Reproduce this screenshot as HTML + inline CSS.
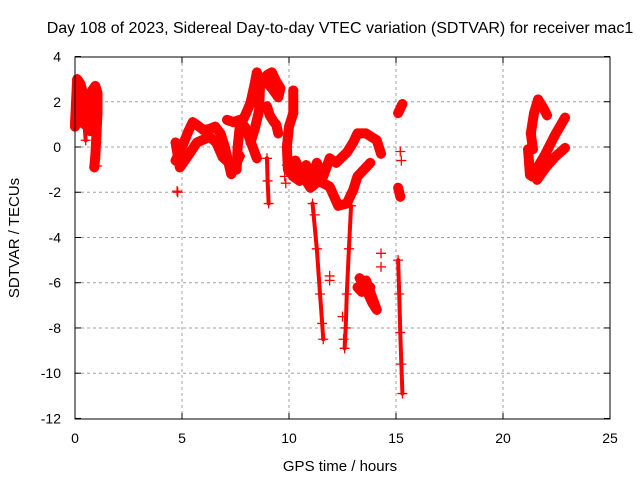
<!DOCTYPE html>
<html><head><meta charset="utf-8"><style>
body{margin:0;background:#fff;}
svg{display:block;font-family:"Liberation Sans",sans-serif;}
</style></head><body>
<svg id="chart" width="640" height="480" viewBox="0 0 640 480">
<text x="340" y="33" text-anchor="middle" font-size="16">Day 108 of 2023, Sidereal Day-to-day VTEC variation (SDTVAR) for receiver mac1</text>
<text x="340" y="471" text-anchor="middle" font-size="15">GPS time / hours</text>
<text x="19" y="238" text-anchor="middle" font-size="15" transform="rotate(-90 19 238)">SDTVAR / TECUs</text>
<g id="grid"></g><g id="axes"></g><g id="marks"></g>
<rect x="75" y="57" width="535" height="362" fill="none" stroke="#000" stroke-width="1"/>
</svg>
<script>
const xTicks=[0,5,10,15,20,25];
const yTicks=[4,2,0,-2,-4,-6,-8,-10,-12];
// dense tracks: [time, sdtvar]
const trackA=[[0.0,1.0],[0.05,2.0],[0.1,3.0],[0.25,2.8],[0.4,2.3],[0.5,1.6],[0.45,1.0],[0.3,1.1],[0.1,1.4],[0.0,0.9]];
const trackB=[[0.65,2.2],[0.8,2.5],[0.95,2.7],[1.05,2.4],[1.05,1.5],[1.0,0.5],[0.95,-0.4],[0.9,-0.9]];
const trackC=[[0.7,0.7],[0.8,1.5],[0.9,2.1]];
const trackD=[[4.7,-0.6],[5.0,0.0],[5.3,0.7],[5.5,1.1],[5.8,0.9],[6.0,0.75],[6.3,0.8],[6.55,0.9],[6.8,0.6],[7.0,0.0],[7.3,-1.2],[7.5,-0.8],[7.7,-0.4]];
const trackE=[[4.7,0.2],[4.9,-0.9],[5.2,-0.5],[5.7,0.2],[6.3,0.45],[6.6,0.2],[6.9,-0.45],[7.2,-0.7],[7.55,-1.0],[7.6,0.0],[7.7,0.9],[8.0,1.5],[8.2,1.95],[8.4,2.8],[8.5,3.3],[8.65,2.8],[8.6,1.6],[8.4,0.8],[8.2,0.2]];
const trackF=[[7.1,1.2],[7.4,1.1],[7.7,1.2],[8.0,0.8],[8.3,0.0],[8.5,-0.5]];
const trackG=[[8.8,3.0],[9.0,3.2],[9.2,3.3],[9.4,2.9],[9.6,2.6],[9.5,2.2],[9.2,2.6],[9.0,2.8]];
const trackH=[[8.97,1.8],[9.1,1.4],[9.3,1.1],[9.4,1.0],[9.5,0.6]];
const trackI=[[10.2,2.5],[10.2,1.5],[10.0,0.9],[9.9,0.0],[9.95,-1.0],[10.2,-1.3],[10.5,-1.5],[10.8,-0.8],[11.0,-1.5],[11.3,-0.7],[11.6,-1.3],[11.9,-0.5],[12.2,-0.7],[12.7,-0.25],[13.0,0.2],[13.2,0.6],[13.6,0.6],[14.1,0.3],[14.3,-0.3]];
const trackJ=[[10.0,-1.0],[10.3,-0.6],[10.6,-1.2],[11.0,-1.8],[11.4,-1.5],[11.9,-1.75],[12.3,-2.6],[12.7,-2.5],[13.0,-1.9],[13.2,-1.3],[13.6,-0.9],[13.8,-0.7]];
const trackK=[[15.1,1.5],[15.3,1.9]];
const trackL=[[15.1,-1.8],[15.2,-2.2]];
const trackM=[[13.3,-5.8],[13.5,-6.1],[13.7,-6.5],[13.9,-6.9],[14.1,-7.2],[13.6,-5.9],[13.4,-6.4],[13.2,-6.2],[13.8,-6.2]];
const trackN=[[21.64,2.1],[21.45,1.5],[21.3,0.6],[21.4,-0.1]];
const trackO=[[21.64,2.1],[21.9,1.7],[22.06,1.4]];
const trackP=[[21.36,-1.3],[21.96,-0.35],[22.43,0.53],[22.9,1.3]];
const trackQ=[[21.59,-1.45],[22.0,-0.9],[22.43,-0.44],[22.9,-0.04]];
const trackR=[[21.17,-0.1],[21.26,-1.24]];
// thin descending streaks
const streakA=[[11.1,-2.5],[11.3,-4.5],[11.45,-6.5],[11.55,-7.8],[11.6,-8.5]];
const streakB=[[12.9,-2.6],[12.8,-4.5],[12.7,-6.5],[12.65,-8.0],[12.6,-8.9]];
const streakC=[[15.1,-5.0],[15.15,-6.5],[15.2,-8.2],[15.25,-9.6],[15.3,-10.9]];
const streakD=[[8.97,-0.5],[9.0,-1.5],[9.05,-2.5]];
const streakE=[[0.45,0.9],[0.5,0.3]];
const streakF=[[1.0,0.2],[0.95,-0.5]];
// sparse markers
const sparseT=[1.03,4.77,4.8,11.9,11.9,14.3,14.3,15.2,15.25,9.9,9.85,9.8,12.5,12.55,11.2];
const sparseV=[-0.84,-1.95,-2.0,-5.7,-5.9,-4.7,-5.3,-0.2,-0.6,-0.8,-1.6,-1.3,-7.5,-8.5,-3.0];

const X=t=>75+t*21.4, Y=v=>147-v*22.62;
const NS='http://www.w3.org/2000/svg';
const grid=document.getElementById('grid'),axes=document.getElementById('axes'),marks=document.getElementById('marks');
function mk(tag,attrs,parent){const e=document.createElementNS(NS,tag);for(const k in attrs)e.setAttribute(k,attrs[k]);parent.appendChild(e);return e;}
xTicks.forEach(t=>{
  const x=X(t);
  if(t>0&&t<25){const g=mk('line',{x1:x,y1:57,x2:x,y2:419,stroke:'#a0a0a0','stroke-dasharray':'3,3'},grid);
  
  }
  mk('line',{x1:x,y1:419,x2:x,y2:413,stroke:'#000'},axes);
  mk('line',{x1:x,y1:57,x2:x,y2:63,stroke:'#000'},axes);
  const l=mk('text',{x:x,y:443,'text-anchor':'middle','font-size':14},axes);l.textContent=t;
  
  
});
yTicks.forEach(v=>{
  const y=Y(v);
  if(v<4&&v>-12){const g=mk('line',{x1:75,y1:y,x2:610,y2:y,stroke:'#a0a0a0','stroke-dasharray':'3,3'},grid);
  
  }
  mk('line',{x1:75,y1:y,x2:81,y2:y,stroke:'#000'},axes);
  mk('line',{x1:610,y1:y,x2:604,y2:y,stroke:'#000'},axes);
  const l=mk('text',{x:61,y:y+5,'text-anchor':'end','font-size':14},axes);l.textContent=v;
  
  
});
function plus(t,v,c){
  const x=X(t),y=Y(v);
  const p=mk('path',{d:`M${x-5} ${y}H${x+5}M${x} ${y-5}V${y+5}`,stroke:c,'stroke-width':1.3,fill:'none'},marks);
  
  
}
function drawTrack(tr,w){
  const pl=mk('polyline',{points:tr.map(p=>X(p[0])+','+Y(p[1])).join(' '),fill:'none',stroke:'#ff0000','stroke-width':w,'stroke-linejoin':'round','stroke-linecap':'round'},marks);
  
  
  tr.forEach(p=>plus(p[0],p[1],'#ff0000'));
}
[trackA,trackB,trackC,trackD,trackE,trackF,trackG,trackH,trackI,trackJ,trackK,trackL,trackM,trackN,trackO,trackP,trackQ,trackR].forEach(tr=>drawTrack(tr,10));
[streakA,streakB,streakC,streakD,streakE,streakF].forEach(tr=>drawTrack(tr,4));
sparseT.forEach((t,i)=>plus(t,sparseV[i],'#ff0000'));
</script>
</body></html>
